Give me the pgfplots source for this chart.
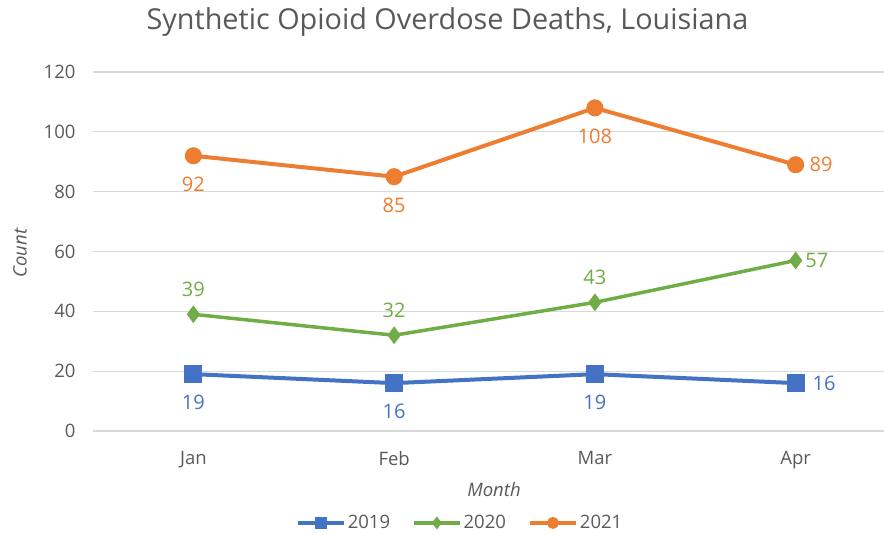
\documentclass[border=0pt]{standalone}
\usepackage{pgfplots}
\pgfplotsset{compat=1.18}
\usepackage{fontspec}
\setmainfont{Open Sans}
\definecolor{cb}{HTML}{4472C4}
\definecolor{cg}{HTML}{70AD47}
\definecolor{co}{HTML}{ED7D31}
\definecolor{gridgray}{HTML}{D9D9D9}
\definecolor{labgray}{HTML}{595959}
\begin{document}
\begin{tikzpicture}[x=1pt,y=1pt]
\path[use as bounding box] (0,0) rectangle (884,535);
\begin{axis}[
  at={(93pt,104pt)}, anchor=south west,
  scale only axis, width=791pt, height=359pt,
  xmin=-0.5, xmax=3.44, ymin=0, ymax=120,
  ytick={0,20,...,120},
  xtick={0,1,2,3}, xticklabels={Jan,Feb,Mar,Apr},
  axis line style={draw=none},
  ymajorgrids, grid style={draw=gridgray, line width=1.3pt},
  major tick length=0pt,
  /pgf/number format/assume math mode=true,
  tick label style={font=\fontsize{18.5}{18.5}\selectfont, text=labgray},
  yticklabel style={xshift=-14pt},
  xticklabel style={yshift=-17pt},
  clip=false,
  legend columns=3,
  legend style={at={(0.464,-0.256)}, anchor=center, draw=none, fill=none,
    font=\fontsize{18.5}{18.5}\selectfont, text=labgray,
    /tikz/every even column/.append style={column sep=20pt}},
  legend image code/.code={\draw[mark repeat=2,mark phase=2, mark options={scale=0.6}] plot coordinates {(0pt,0pt)(23pt,0pt)(46pt,0pt)};},
  nodes near coords,
  every node near coord/.append style={font=\fontsize{20}{20}\selectfont},
  visualization depends on={value \thisrow{anc} \as \anc},
]
\addplot[cb, line width=4pt, mark=square*, mark size=7pt, mark options={solid},
  nodes near coords style={text=cb, anchor=\anc, inner ysep=19pt, inner xsep=15pt}]
  table {
x y anc
0 19 north
1 16 north
2 19 north
3 16 west
};
\addlegendentry{2019}
\addplot[cg, line width=3.5pt, mark=diamond*, mark size=6pt, mark options={solid},
  nodes near coords style={text=cg, anchor=\anc, inner ysep=16pt, inner xsep=8pt}]
  table {
x y anc
0 39 south
1 32 south
2 43 south
3 57 west
};
\addlegendentry{2020}
\addplot[co, line width=4pt, mark=*, mark size=6.5pt, mark options={solid},
  nodes near coords style={text=co, anchor=\anc, inner ysep=19pt, inner xsep=12pt}]
  table {
x y anc
0 92 north
1 85 north
2 108 north
3 89 west
};
\addlegendentry{2021}
\end{axis}
\node[text=labgray, font=\fontsize{28.8}{28.8}\selectfont] at (447.5,513) {Synthetic Opioid Overdose Deaths, Louisiana};
\node[text=labgray, font=\fontsize{18.5}{18.5}\selectfont\itshape, rotate=90] at (20,282) {Count};
\node[text=labgray, font=\fontsize{18.5}{18.5}\selectfont\itshape] at (494,45) {Month};
\end{tikzpicture}
\end{document}
